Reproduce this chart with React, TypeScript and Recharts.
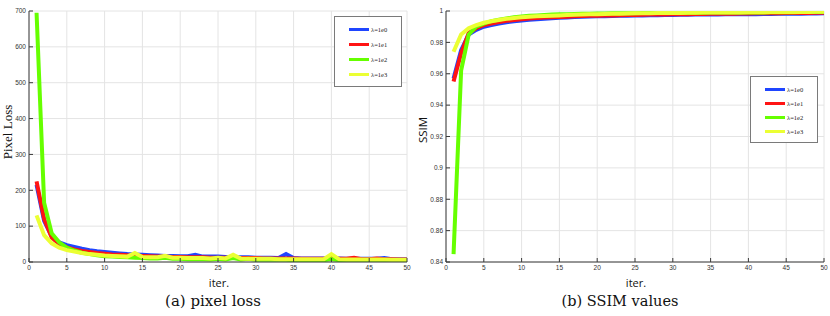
import React from "react";
import { LineChart, Line, XAxis, YAxis, CartesianGrid, Legend } from "recharts";

const iters = [
  1, 2, 3, 4, 5, 6, 7, 8, 9, 10, 11, 12, 13, 14, 15, 16, 17, 18, 19, 20, 21, 22, 23, 24, 25,
  26, 27, 28, 29, 30, 31, 32, 33, 34, 35, 36, 37, 38, 39, 40, 41, 42, 43, 44, 45, 46, 47, 48, 49, 50,
];

const seriesNames = ["λ=1e0", "λ=1e1", "λ=1e2", "λ=1e3"];
const seriesColors = ["#1f45ff", "#ff1414", "#66ff00", "#ebff33"];

const xTicks = [0, 5, 10, 15, 20, 25, 30, 35, 40, 45, 50];
const lossTicks = [0, 100, 200, 300, 400, 500, 600, 700];
const ssimTicks = [0.84, 0.86, 0.88, 0.9, 0.92, 0.94, 0.96, 0.98, 1];

// pixel loss per lambda
const loss1e0 = [
  215, 115, 72, 55, 47, 42, 37, 33, 30, 28, 26, 24, 22, 21, 20, 19, 18, 17, 17, 16,
  16, 20, 15, 15, 15, 14, 14, 13, 13, 12, 12, 12, 11, 22, 11, 10, 10, 10, 10, 10,
  10, 9, 9, 9, 9, 9, 11, 8, 8, 8,
];
const loss1e1 = [
  225, 120, 68, 50, 41, 35, 31, 28, 25, 23, 21, 20, 19, 18, 17, 16, 15, 15, 14, 14,
  13, 13, 13, 12, 12, 12, 11, 11, 11, 11, 10, 10, 10, 10, 10, 9, 9, 9, 9, 12,
  9, 9, 12, 8, 8, 10, 8, 8, 7, 7,
];
const loss1e2 = [
  695, 165, 80, 55, 40, 32, 26, 22, 19, 16, 15, 14, 13, 12, 11, 10, 10, 12, 9, 9,
  8, 8, 8, 7, 9, 7, 11, 7, 9, 6, 6, 6, 6, 6, 5, 5, 5, 5, 5, 8,
  5, 4, 4, 4, 4, 4, 4, 3, 3, 3,
];
const loss1e3 = [
  130, 75, 52, 40, 33, 29, 25, 22, 20, 18, 17, 16, 15, 25, 14, 13, 13, 17, 12, 12,
  11, 11, 11, 10, 12, 10, 20, 10, 9, 9, 9, 9, 8, 8, 8, 8, 8, 8, 8, 22,
  8, 7, 7, 7, 7, 7, 7, 6, 6, 6,
];

// SSIM per lambda
const ssim1e0 = [
  0.957, 0.975, 0.985, 0.988, 0.99, 0.991, 0.992, 0.9928, 0.9934, 0.994,
  0.9944, 0.9948, 0.9951, 0.9954, 0.9957, 0.9959, 0.9961, 0.9963, 0.9965, 0.9966,
  0.9967, 0.9968, 0.9969, 0.997, 0.9971, 0.9972, 0.9973, 0.9973, 0.9974, 0.9975,
  0.9976, 0.9976, 0.9977, 0.9977, 0.9978, 0.9978, 0.9979, 0.9979, 0.998, 0.998,
  0.998, 0.9981, 0.9981, 0.9982, 0.9982, 0.9983, 0.9983, 0.9984, 0.9984, 0.9985,
];
const ssim1e1 = [
  0.955, 0.973, 0.986, 0.989, 0.991, 0.992, 0.993, 0.9937, 0.9943, 0.9948,
  0.9952, 0.9955, 0.9958, 0.996, 0.9962, 0.9964, 0.9966, 0.9968, 0.9969, 0.997,
  0.9971, 0.9972, 0.9973, 0.9974, 0.9975, 0.9976, 0.9977, 0.9978, 0.9978, 0.9979,
  0.998, 0.998, 0.9981, 0.9981, 0.9982, 0.9982, 0.9983, 0.9983, 0.9984, 0.9984,
  0.9985, 0.9985, 0.9986, 0.9986, 0.9987, 0.9987, 0.9988, 0.9988, 0.9989, 0.9989,
];
const ssim1e2 = [
  0.845, 0.962, 0.985, 0.99, 0.992, 0.9935, 0.9945, 0.9953, 0.996, 0.9965,
  0.9969, 0.9972, 0.9975, 0.9977, 0.9979, 0.998, 0.9981, 0.9982, 0.9983, 0.9984,
  0.9984, 0.9985, 0.9985, 0.9986, 0.9986, 0.9987, 0.9987, 0.9987, 0.9988, 0.9988,
  0.9988, 0.9989, 0.9989, 0.9989, 0.999, 0.999, 0.999, 0.999, 0.9991, 0.9991,
  0.9991, 0.9991, 0.9992, 0.9992, 0.9992, 0.9992, 0.9993, 0.9993, 0.9993, 0.9993,
];
const ssim1e3 = [
  0.974, 0.985, 0.989, 0.991, 0.9925, 0.9935, 0.9943, 0.995, 0.9955, 0.996,
  0.9963, 0.9966, 0.9968, 0.997, 0.9972, 0.9974, 0.9976, 0.9978, 0.9979, 0.998,
  0.9981, 0.9982, 0.9983, 0.9984, 0.9985, 0.9985, 0.9986, 0.9987, 0.9987, 0.9988,
  0.9988, 0.9989, 0.9989, 0.999, 0.999, 0.999, 0.9991, 0.9991, 0.9991, 0.9992,
  0.9992, 0.9992, 0.9993, 0.9993, 0.9993, 0.9994, 0.9994, 0.9994, 0.9995, 0.9995,
];

const lossData = iters.map((it, i) => ({
  it,
  s0: loss1e0[i],
  s1: loss1e1[i],
  s2: loss1e2[i],
  s3: loss1e3[i],
}));
const ssimData = iters.map((it, i) => ({
  it,
  s0: ssim1e0[i],
  s1: ssim1e1[i],
  s2: ssim1e2[i],
  s3: ssim1e3[i],
}));

const axisColor = "#3a3a3a";
const tickFont = { fontSize: 6.5, fill: "#333", fontFamily: "Liberation Sans" };
const Y_W = 24;

function LegendBox({ rowGap }: { rowGap: number }) {
  return (
    <div
      style={{
        width: 68,
        border: "1px solid #7a7a7a",
        background: "#fff",
        padding: "5px 0 4px 0",
        boxSizing: "border-box",
      }}
    >
      {seriesNames.map((n, i) => (
        <div
          key={n}
          style={{ display: "flex", alignItems: "center", height: rowGap, paddingLeft: 14 }}
        >
          <div style={{ width: 20, height: 3, background: seriesColors[i] }} />
          <span
            style={{
              fontFamily: "Liberation Serif",
              fontSize: 6.5,
              color: "#222",
              marginLeft: 2,
            }}
          >
            {n}
          </span>
        </div>
      ))}
    </div>
  );
}

function Panel({
  data,
  domain,
  yTicks,
  yFmt,
  left,
  plotLeft,
  width,
  legendPos,
  rowGap,
}: {
  data: any[];
  domain: [number, number];
  yTicks: number[];
  yFmt: (v: number) => string;
  left: number;
  plotLeft: number;
  width: number;
  legendPos: { left: number; top: number };
  rowGap: number;
}) {
  return (
    <div style={{ position: "absolute", left, top: 0 }}>
      <LineChart
        width={width}
        height={290}
        data={data}
        margin={{ top: 11, right: width - plotLeft - 378, bottom: 0, left: plotLeft - Y_W }}
      >
        <CartesianGrid stroke="#e4e4e4" strokeWidth={1} />
        <XAxis
          dataKey="it"
          type="number"
          domain={[0, 50]}
          ticks={xTicks}
          height={28}
          stroke={axisColor}
          tickSize={-4}
          tickMargin={7}
          tick={tickFont}
          interval={0}
        />
        <XAxis
          xAxisId="top"
          orientation="top"
          type="number"
          domain={[0, 50]}
          ticks={xTicks}
          height={0}
          stroke={axisColor}
          tickSize={-4}
          tickFormatter={() => ""}
          interval={0}
        />
        <YAxis
          type="number"
          domain={domain}
          ticks={yTicks}
          width={Y_W}
          stroke={axisColor}
          tickSize={-4}
          tickMargin={7}
          tick={tickFont}
          tickFormatter={yFmt}
          interval={0}
          allowDataOverflow
        />
        <YAxis
          yAxisId="r"
          orientation="right"
          type="number"
          domain={domain}
          ticks={yTicks}
          width={0}
          stroke={axisColor}
          tickSize={-4}
          tickFormatter={() => ""}
          interval={0}
        />
        {seriesNames.map((n, i) => (
          <Line
            key={n}
            dataKey={"s" + i}
            name={n}
            stroke={seriesColors[i]}
            strokeWidth={4}
            dot={false}
            type="linear"
            isAnimationActive={false}
          />
        ))}
        <Legend
          layout="vertical"
          align="center"
          verticalAlign="middle"
          wrapperStyle={{ left: legendPos.left, top: legendPos.top, width: 68 }}
          content={() => <LegendBox rowGap={rowGap} />}
        />
      </LineChart>
    </div>
  );
}

const label: React.CSSProperties = { position: "absolute", whiteSpace: "nowrap", color: "#111" };

export default function App() {
  return (
    <div style={{ position: "absolute", left: 0, top: 0, width: 830, height: 316, background: "#fff" }}>
      <Panel
        data={lossData}
        domain={[0, 700]}
        yTicks={lossTicks}
        yFmt={(v) => String(v)}
        left={0}
        plotLeft={29}
        width={414}
        legendPos={{ left: 334, top: 16 }}
        rowGap={15}
      />
      <Panel
        data={ssimData}
        domain={[0.84, 1]}
        yTicks={ssimTicks}
        yFmt={(v) => String(+v.toFixed(2))}
        left={410}
        plotLeft={36}
        width={420}
        legendPos={{ left: 340, top: 76 }}
        rowGap={14}
      />
      {/* axis titles */}
      <div
        style={{
          ...label,
          left: 8,
          top: 132,
          transform: "translate(-50%, -50%) rotate(-90deg)",
          fontFamily: "Liberation Serif",
          fontSize: 13,
        }}
      >
        Pixel Loss
      </div>
      <div
        style={{
          ...label,
          left: 422,
          top: 130,
          transform: "translate(-50%, -50%) rotate(-90deg)",
          fontFamily: "Open Sans",
          fontSize: 11.5,
          fontWeight: 500,
        }}
      >
        SSIM
      </div>
      <div style={{ ...label, left: 219, top: 282, transform: "translate(-50%, -50%)", fontFamily: "Open Sans", fontSize: 11 }}>
        iter.
      </div>
      <div style={{ ...label, left: 636, top: 282, transform: "translate(-50%, -50%)", fontFamily: "Open Sans", fontSize: 11 }}>
        iter.
      </div>
      <div style={{ ...label, left: 213, top: 301, transform: "translate(-50%, -50%)", fontFamily: "DejaVu Serif", fontSize: 15 }}>
        (a) pixel loss
      </div>
      <div style={{ ...label, left: 620, top: 301, transform: "translate(-50%, -50%)", fontFamily: "DejaVu Serif", fontSize: 14.5 }}>
        (b) SSIM values
      </div>
    </div>
  );
}
